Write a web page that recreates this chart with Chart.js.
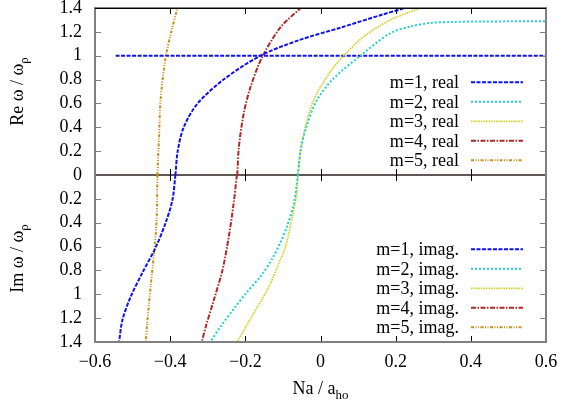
<!DOCTYPE html>
<html>
<head>
<meta charset="utf-8">
<script src="https://cdn.jsdelivr.net/npm/chart.js@4/dist/chart.umd.min.js"></script>
<style>
  body { margin: 0; background: #fff; }
</style>
</head>
<body>
<canvas id="chart" width="581" height="407"></canvas>
<script>
// x = Na / a_ho, values = omega / omega_rho (imag parts stored positive)
// points are listed in order along each curve
const m1ReX = [-0.386, -0.380, -0.364, -0.327, -0.258, -0.160, -0.053, 0.053, 0.165, 0.22];
const m1ReY = [0, 0.2, 0.4, 0.6, 0.8, 1.0, 1.135, 1.235, 1.345, 1.395];
const m1FlatX = [-0.545, 0.6];
const m1FlatY = [1, 1];
const m1ImX = [-0.386, -0.394, -0.412, -0.439, -0.474, -0.505, -0.527, -0.536];
const m1ImY = [0, 0.21, 0.40, 0.61, 0.82, 1.02, 1.215, 1.4];

const m2ReX = [-0.060, -0.053, -0.035, -0.009, 0.035, 0.106, 0.186, 0.24, 0.293, 0.35, 0.426, 0.5, 0.6];
const m2ReY = [0, 0.21, 0.43, 0.63, 0.81, 1.0, 1.19, 1.245, 1.275, 1.283, 1.287, 1.288, 1.29];
const m2ImX = [-0.060, -0.071, -0.089, -0.106, -0.128, -0.157, -0.198, -0.23, -0.266, -0.293];
const m2ImY = [0, 0.24, 0.43, 0.56, 0.70, 0.84, 0.99, 1.12, 1.27, 1.4];

const m3ReX = [-0.060, -0.055, -0.044, -0.018, 0.027, 0.062, 0.115, 0.186, 0.266];
const m3ReY = [0, 0.15, 0.35, 0.63, 0.87, 1.0, 1.16, 1.30, 1.4];
const m3ImX = [-0.060, -0.064, -0.075, -0.093, -0.111, -0.133, -0.157, -0.178, -0.198, -0.222];
const m3ImY = [0, 0.17, 0.35, 0.60, 0.74, 0.91, 1.05, 1.16, 1.27, 1.4];

const m4ReX = [-0.2215, -0.217, -0.204, -0.186, -0.155, -0.106, -0.053];
const m4ReY = [0, 0.24, 0.52, 0.74, 0.99, 1.24, 1.4];
const m4ImX = [-0.2225, -0.231, -0.244, -0.261, -0.284, -0.306, -0.316];
const m4ImY = [0, 0.235, 0.517, 0.80, 1.05, 1.28, 1.4];

const m5ReX = [-0.434, -0.430, -0.4255, -0.412, -0.397, -0.381];
const m5ReY = [0, 0.29, 0.63, 0.99, 1.2, 1.4];
const m5ImX = [-0.434, -0.436, -0.443, -0.452, -0.461, -0.465];
const m5ImY = [0, 0.377, 0.655, 0.936, 1.24, 1.4];

const xTicks = [-0.6, -0.4, -0.2, 0, 0.2, 0.4, 0.6];
const yTicks = [0, 0.2, 0.4, 0.6, 0.8, 1, 1.2, 1.4];

const legendReal = ['m=1, real', 'm=2, real', 'm=3, real', 'm=4, real', 'm=5, real'];
const legendImag = ['m=1, imag.', 'm=2, imag.', 'm=3, imag.', 'm=4, imag.', 'm=5, imag.'];

const FONT = '"Liberation Serif", "Times New Roman", serif';

// line styles per mode
const styles = [
    { color: '#1010f0', dash: [4, 1.5], width: 2 },
    { color: '#20d0d0', dash: [2, 2], width: 2 },
    { color: '#d2d22a', dash: [1.5, 1], width: 1.8 },
    { color: '#b02828', dash: [5, 1.5, 1.5, 1.5], width: 2 },
    { color: '#c8901a', dash: [3, 1.5, 1, 1.5, 1, 1.5], width: 2 }
];

function pts(xs, ys, sign) {
    return xs.map((x, i) => ({ x: x, y: sign * ys[i] }));
}

const realSets = [
    pts(m1ReX, m1ReY, 1),
    pts(m2ReX, m2ReY, 1),
    pts(m3ReX, m3ReY, 1),
    pts(m4ReX, m4ReY, 1),
    pts(m5ReX, m5ReY, 1)
];
const imagSets = [
    pts(m1ImX, m1ImY, -1),
    pts(m2ImX, m2ImY, -1),
    pts(m3ImX, m3ImY, -1),
    pts(m4ImX, m4ImY, -1),
    pts(m5ImX, m5ImY, -1)
];

function lineSet(label, data, st) {
    return {
        label: label,
        data: data,
        borderColor: st.color,
        borderWidth: st.width,
        borderDash: st.dash,
        pointRadius: 0,
        fill: false,
        tension: 0.3
    };
}

const datasets = [];
realSets.forEach((d, i) => datasets.push(lineSet(legendReal[i], d, styles[i])));
datasets.push(lineSet('m=1, real (flat)', pts(m1FlatX, m1FlatY, 1), styles[0]));
imagSets.forEach((d, i) => datasets.push(lineSet(legendImag[i], d, styles[i])));

function fmt(v) {
    const a = Math.abs(v);
    let s = a.toFixed(1);
    if (s.endsWith('.0')) s = s.slice(0, -2);
    return s;
}

// frame, mirrored ticks and zero line
const framePlugin = {
    id: 'frame',
    beforeDatasetsDraw(chart) {
        const { ctx, chartArea: a, scales } = chart;
        const y0 = scales.y.getPixelForValue(0);
        ctx.save();
        ctx.strokeStyle = '#2b211c';
        ctx.lineWidth = 1.5;
        ctx.beginPath();
        ctx.moveTo(a.left, y0);
        ctx.lineTo(a.right, y0);
        ctx.stroke();
        ctx.restore();
    },
    afterDatasetsDraw(chart) {
        const { ctx, chartArea: a, scales } = chart;
        const y0 = scales.y.getPixelForValue(0);
        ctx.save();
        ctx.strokeStyle = '#000';
        ctx.lineWidth = 1;
        xTicks.slice(1, -1).forEach(v => {
            const x = Math.round(scales.x.getPixelForValue(v)) + 0.5;
            ctx.beginPath();
            ctx.moveTo(x, a.top); ctx.lineTo(x, a.top + 6);
            ctx.moveTo(x, y0 - 6); ctx.lineTo(x, y0 + 6);
            ctx.moveTo(x, a.bottom); ctx.lineTo(x, a.bottom - 6);
            ctx.stroke();
        });
        ctx.strokeStyle = '#808080';
        yTicks.slice(1, -1).forEach(v => {
            [v, -v].forEach(t => {
                const y = Math.round(scales.y.getPixelForValue(t)) + 0.5;
                ctx.beginPath();
                ctx.moveTo(a.left, y); ctx.lineTo(a.left + 6, y);
                ctx.moveTo(a.right, y); ctx.lineTo(a.right - 6, y);
                ctx.stroke();
            });
        });
        ctx.strokeStyle = '#808080';
        ctx.lineWidth = 2;
        ctx.strokeRect(a.left, a.top, a.right - a.left, a.bottom - a.top);
        ctx.strokeStyle = '#000';
        ctx.lineWidth = 1;
        ctx.beginPath();
        ctx.moveTo(a.left, a.top + 0.5);
        ctx.lineTo(a.right, a.top + 0.5);
        ctx.stroke();
        ctx.restore();
    }
};

// legends inside each panel + axis titles with subscripts
const textPlugin = {
    id: 'texts',
    afterDraw(chart) {
        const { ctx, chartArea: a, scales } = chart;
        const y0 = scales.y.getPixelForValue(0);
        ctx.save();
        ctx.font = '18px ' + FONT;
        ctx.fillStyle = '#000';
        ctx.textBaseline = 'middle';
        ctx.textAlign = 'right';
        const drawLegend = (labels, top) => {
            labels.forEach((lab, i) => {
                const y = top + 74.3 + i * 19.5;
                ctx.fillText(lab, a.right - 87, y + 1);
                const st = styles[i];
                ctx.save();
                ctx.strokeStyle = st.color;
                ctx.lineWidth = st.width;
                ctx.setLineDash(st.dash);
                ctx.beginPath();
                ctx.moveTo(a.right - 75, y);
                ctx.lineTo(a.right - 23, y);
                ctx.stroke();
                ctx.restore();
            });
        };
        drawLegend(legendReal, a.top);
        drawLegend(legendImag, y0);

        // y titles
        const yTitle = (main, cy) => {
            ctx.save();
            ctx.translate(23, cy);
            ctx.rotate(-Math.PI / 2);
            ctx.textAlign = 'left';
            ctx.textBaseline = 'alphabetic';
            ctx.font = '18px ' + FONT;
            const w1 = ctx.measureText(main).width;
            ctx.font = '13px ' + FONT;
            const w2 = ctx.measureText('\u03c1').width;
            const start = -(w1 + w2) / 2;
            ctx.font = '18px ' + FONT;
            ctx.fillText(main, start, 0);
            ctx.font = '13px ' + FONT;
            ctx.fillText('\u03c1', start + w1, 5);
            ctx.restore();
        };
        yTitle('Re \u03c9 / \u03c9', (a.top + y0) / 2);
        yTitle('Im \u03c9 / \u03c9', (y0 + a.bottom) / 2);

        // x title
        ctx.textAlign = 'left';
        ctx.textBaseline = 'alphabetic';
        ctx.font = '18px ' + FONT;
        const main = 'Na / a';
        const w1 = ctx.measureText(main).width;
        ctx.font = '13px ' + FONT;
        const w2 = ctx.measureText('ho').width;
        const cx = (a.left + a.right) / 2;
        const sx = cx - (w1 + w2) / 2;
        ctx.font = '18px ' + FONT;
        ctx.fillText(main, sx, 394);
        ctx.font = '13px ' + FONT;
        ctx.fillText('ho', sx + w1, 399);
        ctx.restore();
    }
};

new Chart(document.getElementById('chart').getContext('2d'), {
    type: 'line',
    data: { datasets: datasets },
    options: {
        responsive: false,
        animation: false,
        devicePixelRatio: 1,
        layout: { padding: { top: 8, right: 35, left: 0, bottom: 0 } },
        plugins: {
            legend: { display: false },
            tooltip: { enabled: false }
        },
        scales: {
            x: {
                type: 'linear',
                min: -0.6,
                max: 0.6,
                afterFit: s => { s.height = 65; s.paddingLeft = 0; s.paddingRight = 0; },
                afterBuildTicks: s => { s.ticks = xTicks.map(v => ({ value: v })); },
                grid: { display: false, drawTicks: false },
                border: { display: false },
                ticks: {
                    autoSkip: false,
                    maxRotation: 0,
                    padding: 9,
                    color: '#000',
                    font: { family: FONT, size: 18 },
                    callback: v => (v < 0 ? '\u2212' : '') + fmt(v)
                }
            },
            y: {
                type: 'linear',
                min: -1.4,
                max: 1.4,
                afterFit: s => { s.width = 95; s.paddingTop = 0; s.paddingBottom = 0; },
                afterBuildTicks: s => {
                    const t = [];
                    yTicks.forEach(v => { t.push({ value: v }); if (v !== 0) t.push({ value: -v }); });
                    s.ticks = t.sort((p, q) => p.value - q.value);
                },
                grid: { display: false, drawTicks: false },
                border: { display: false },
                ticks: {
                    autoSkip: false,
                    padding: 13,
                    color: '#000',
                    font: { family: FONT, size: 18 },
                    callback: v => fmt(v)
                }
            }
        }
    },
    plugins: [framePlugin, textPlugin]
});
</script>
</body>
</html>
